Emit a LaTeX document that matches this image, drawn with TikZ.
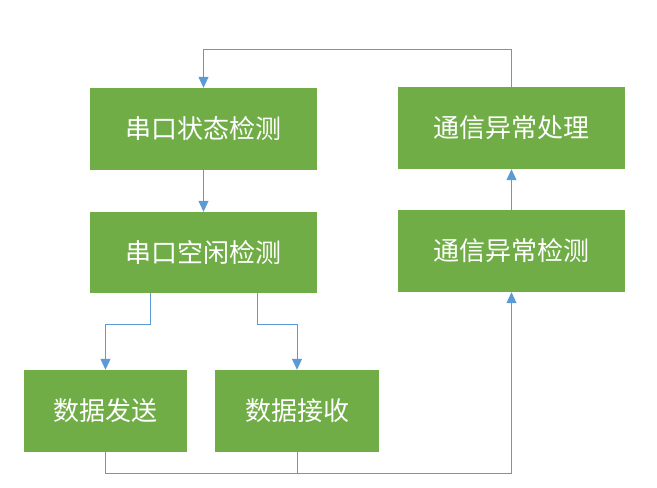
\documentclass[tikz,border=0pt]{standalone}
\usepackage{fontspec}
\setmainfont{Noto Sans CJK SC}
\usetikzlibrary{arrows.meta}

\begin{document}
\begin{tikzpicture}[x=1pt,y=-1pt,
  box/.style={fill=boxgreen,text=white,inner sep=0pt,
    font=\fontsize{26}{30}\selectfont},
  link/.style={draw=linkblue,line width=1pt},
  arr/.style={link,-{Triangle[width=10pt,length=11pt]}}]
\definecolor{boxgreen}{RGB}{112,173,71}
\definecolor{linkblue}{RGB}{91,155,213}
\useasboundingbox (0,0) rectangle (657,488);

% boxes
\node[box,minimum width=227pt,minimum height=82pt] (n1) at (203.5,129) {串口状态检测};
\node[box,minimum width=227pt,minimum height=81pt] (n2) at (203.5,252.5) {串口空闲检测};
\node[box,minimum width=163pt,minimum height=82pt] (n3) at (105.5,411) {数据发送};
\node[box,minimum width=164pt,minimum height=82pt] (n4) at (297,411) {数据接收};
\node[box,minimum width=227pt,minimum height=82pt] (n5) at (511.5,128) {通信异常处理};
\node[box,minimum width=227pt,minimum height=82pt] (n6) at (511.5,251) {通信异常检测};

\coordinate (t) at (511.5,49);
\coordinate (b1) at (150,324);
\coordinate (b2) at (257,324);
\coordinate (m) at (511.5,473);

% connectors
\draw[arr] (n5.north) -- (t) -| (n1.north);
\draw[arr] (n1.south) -- (n2.north);
\draw[arr] (n2.south -| b1) -- (b1) -| (n3.north);
\draw[arr] (n2.south -| b2) -- (b2) -| (n4.north);
\draw[arr] (n3.south) |- (m) -- (n6.south);
\draw[link] (n4.south) -- (n4.south |- m);
\draw[arr] (n6.north) -- (n5.south);

\end{tikzpicture}
\end{document}
